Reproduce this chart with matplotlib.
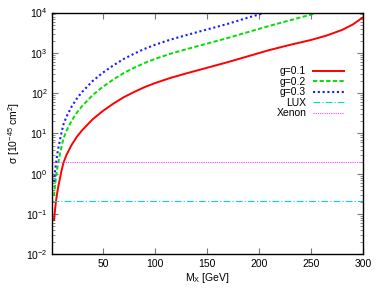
import numpy as np
import matplotlib
matplotlib.use("Agg")
from matplotlib import pyplot as plt
from matplotlib.ticker import LogFormatterMathtext, FixedLocator

plt.rcParams['font.family'] = ['Liberation Sans', 'DejaVu Sans']
plt.rcParams['mathtext.default'] = 'regular'

# values: M in GeV, log10 of sigma in 1e-45 cm^2
m_g01 = [3, 4, 5, 6, 7, 8, 10, 12, 15, 20, 25, 30, 40, 50, 60, 70, 80, 90, 100, 115, 130, 150,
         170, 190, 210, 230, 250, 265, 280, 290, 300]
logs_g01 = [-1.15, -0.88, -0.66, -0.48, -0.33, -0.2, 0.05, 0.27, 0.47, 0.72, 0.92, 1.08, 1.35, 1.56,
            1.74, 1.9, 2.03, 2.15, 2.25, 2.38, 2.49, 2.63, 2.77, 2.92, 3.07, 3.2, 3.32, 3.43, 3.57, 3.7, 3.88]

m_g02 = [3, 4, 5, 6, 7, 8, 10, 12, 15, 20, 25, 30, 40, 50, 60, 70, 80, 90, 100, 115, 130, 150,
         170, 190, 210, 230, 250, 262]
logs_g02 = [-0.55, -0.28, -0.06, 0.12, 0.27, 0.4, 0.65, 0.87, 1.07, 1.32, 1.52, 1.68, 1.95, 2.16,
            2.34, 2.5, 2.63, 2.75, 2.85, 2.98, 3.09, 3.23, 3.37, 3.52, 3.67, 3.81, 3.95, 4.04]

m_g03 = [3, 4, 5, 6, 7, 8, 10, 12, 15, 20, 25, 30, 40, 50, 60, 70, 80, 90, 100, 115, 130, 150,
         170, 190, 212]
logs_g03 = [-0.2, 0.07, 0.29, 0.47, 0.62, 0.75, 1.0, 1.22, 1.42, 1.67, 1.87, 2.03, 2.3, 2.51,
            2.69, 2.85, 2.98, 3.1, 3.2, 3.33, 3.44, 3.58, 3.72, 3.88, 4.04]

lux_level = 0.21
xenon_level = 1.93
x_limits = [1, 300]
x_ticks = [50, 100, 150, 200, 250, 300]
y_ticks = [1e-2, 1e-1, 1e0, 1e1, 1e2, 1e3, 1e4]

fig = plt.figure(figsize=(3.82, 3.0), dpi=100)
ax = fig.add_axes([0.136, 0.152, 0.814, 0.806])

ax.plot(m_g01, 10.0 ** np.array(logs_g01), color='#ff0000', lw=1.4, label='g=0.1')
ax.plot(m_g02, 10.0 ** np.array(logs_g02), color='#00e000', lw=1.4, ls=(0, (2.2, 1.2)), label='g=0.2')
ax.plot(m_g03, 10.0 ** np.array(logs_g03), color='#1a1aff', lw=1.5, ls=(0, (1, 1.3)), label='g=0.3')
ax.plot(x_limits, [lux_level, lux_level], color='#00d8d8', lw=0.8, ls=(0, (6, 2, 1, 2)), label='LUX')
ax.plot(x_limits, [xenon_level, xenon_level], color='#ff40ff', lw=0.8, ls=(0, (1, 1)), label='Xenon')

ax.set_yscale('log')
ax.set_xlim(x_limits)
ax.set_ylim(1e-2, 1e4)
ax.xaxis.set_major_locator(FixedLocator(x_ticks))
ax.yaxis.set_major_locator(FixedLocator(y_ticks))
minor = [k * d for d in y_ticks[:-1] for k in range(2, 10)]
ax.yaxis.set_minor_locator(FixedLocator(minor))
ax.yaxis.set_major_formatter(LogFormatterMathtext())
ax.tick_params(which='both', direction='in', top=True, right=True, labelsize=7.5, color='#777777', pad=3)
ax.tick_params(which='major', length=4)
ax.tick_params(which='minor', length=2)
for s in ax.spines.values():
    s.set_linewidth(1.0)

ax.set_xlabel('M$_X$ [GeV]', fontsize=7.5, labelpad=2)
ax.set_ylabel('σ [10$^{-45}$ cm$^2$]', fontsize=7.5, labelpad=3)

ax.legend(loc='upper right', bbox_to_anchor=(0.955, 0.8), frameon=False, markerfirst=False,
          fontsize=7.5, handlelength=2.9, handletextpad=0.7, labelspacing=0.05, borderpad=0)

fig.savefig('out.png', dpi=100)
